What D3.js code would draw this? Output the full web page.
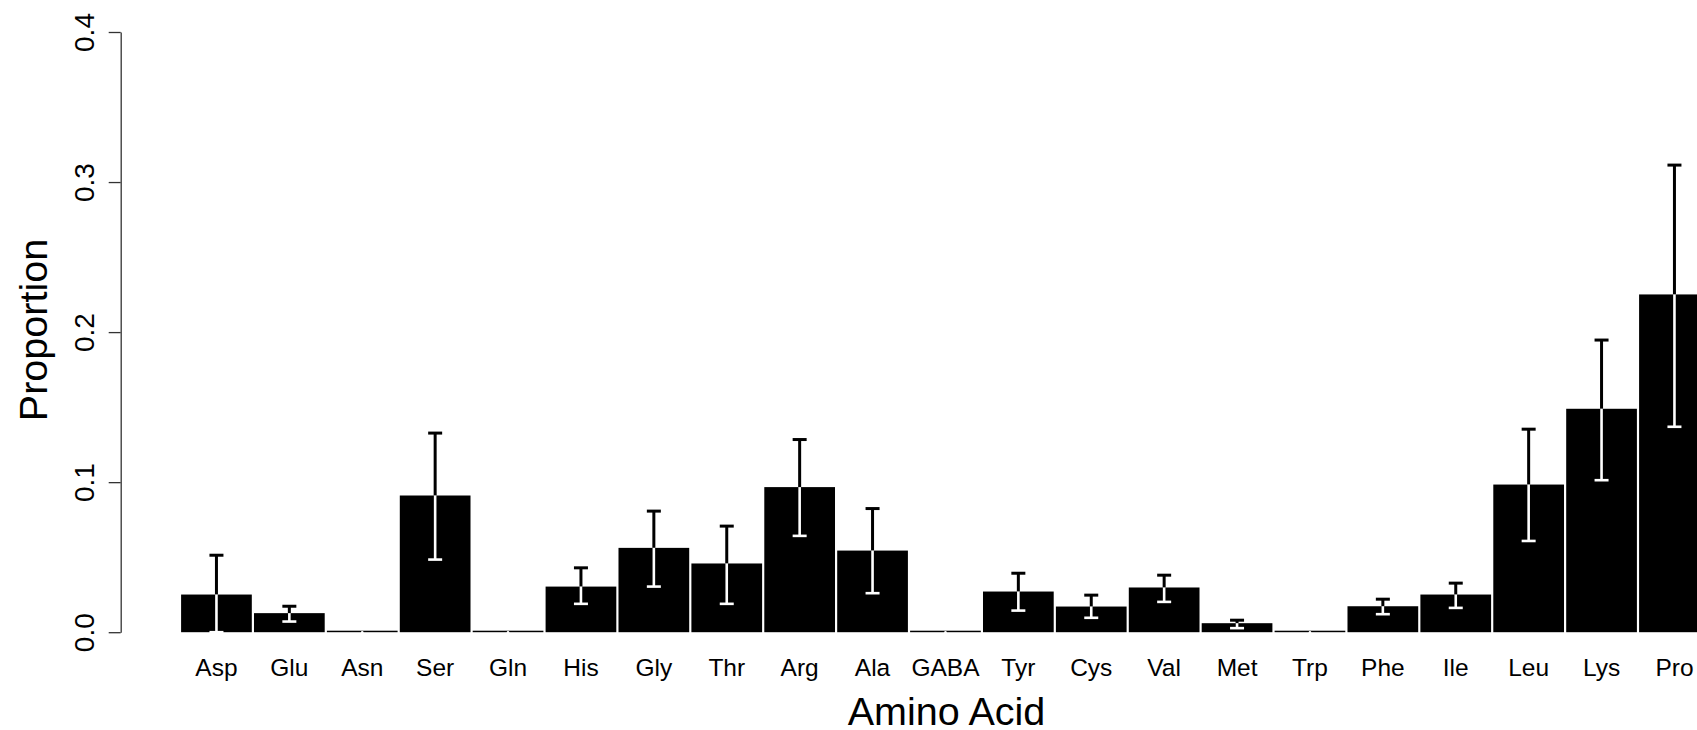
<!DOCTYPE html>
<html>
<head>
<meta charset="utf-8">
<script src="https://cdn.jsdelivr.net/npm/d3@7"></script>
<style>
  body { margin: 0; background: #fff; }
  svg { display: block; font-family: "Liberation Sans", Arial, Helvetica, sans-serif; }
</style>
</head>
<body>
<script>
// amino acids, mean proportion and error bar ends
const aminoAcids = ["Asp", "Glu", "Asn", "Ser", "Gln", "His", "Gly", "Thr", "Arg", "Ala", "GABA",
                    "Tyr", "Cys", "Val", "Met", "Trp", "Phe", "Ile", "Leu", "Lys", "Pro"];
const meanProp = [0.0251, 0.0127, 0, 0.0911, 0, 0.0304, 0.0562, 0.0458, 0.0967, 0.0544, 0,
                  0.0271, 0.0171, 0.0298, 0.0060, 0, 0.0173, 0.0251, 0.0984, 0.1489, 0.2251];
const upperProp = [0.0513, 0.0173, 0, 0.1327, 0, 0.0429, 0.0807, 0.0707, 0.1284, 0.0824, 0,
                   0.0393, 0.0247, 0.0380, 0.0080, 0, 0.0220, 0.0327, 0.1353, 0.1947, 0.3113];
const lowerProp = [0, 0.0071, 0, 0.0484, 0, 0.0189, 0.0304, 0.0189, 0.0642, 0.0260, 0,
                   0.0144, 0.0096, 0.0202, 0.0027, 0, 0.0120, 0.0162, 0.0608, 0.1013, 0.1369];
const yTicks = [0, 0.1, 0.2, 0.3, 0.4];

const width = 1697, height = 730;
const data = aminoAcids.map((name, i) => ({
    name: name, mean: meanProp[i], hi: upperProp[i], lo: lowerProp[i]
}));

const svg = d3.select("body").append("svg")
    .attr("width", width)
    .attr("height", height);

// the plot runs past the right edge, like the original
const step = 72.9;
const x = d3.scaleBand()
    .domain(aminoAcids)
    .range([180, 180 + step * aminoAcids.length])
    .paddingInner(0.03)
    .paddingOuter(0.015);

const y = d3.scaleLinear()
    .domain([0, 0.4])
    .range([632.2, 32]);

// bars
svg.append("g")
    .selectAll("rect")
    .data(data)
    .enter().append("rect")
    .attr("x", d => x(d.name))
    .attr("width", x.bandwidth())
    .attr("y", d => Math.min(y(d.mean), y(0) - 1.5))
    .attr("height", d => Math.max(y(0) - y(d.mean), 1.5))
    .attr("fill", "#000");

// error bars: black above the mean, white inside the bar
const capHalf = 7;
const err = svg.append("g").selectAll("g")
    .data(data)
    .enter().append("g")
    .attr("transform", d => `translate(${x(d.name) + x.bandwidth() / 2},0)`);

err.filter(d => d.hi > d.mean).append("line")
    .attr("y1", d => y(d.mean)).attr("y2", d => y(d.hi))
    .attr("stroke", "#000").attr("stroke-width", 3);
err.filter(d => d.hi > d.mean).append("line")
    .attr("x1", -capHalf).attr("x2", capHalf)
    .attr("y1", d => y(d.hi)).attr("y2", d => y(d.hi))
    .attr("stroke", "#000").attr("stroke-width", 3);

err.append("line")
    .attr("y1", d => y(d.mean)).attr("y2", d => y(d.lo))
    .attr("stroke", "#fff").attr("stroke-width", 2.6)
    .attr("stroke-linecap", d => d.mean === 0 ? "round" : "butt");
err.filter(d => d.lo < d.mean).append("line")
    .attr("x1", -capHalf).attr("x2", capHalf)
    .attr("y1", d => y(d.lo)).attr("y2", d => y(d.lo))
    .attr("stroke", "#fff").attr("stroke-width", 2.6);

// y axis
const yAxis = svg.append("g")
    .attr("transform", "translate(120.7,0)")
    .call(d3.axisLeft(y).tickValues(yTicks).tickFormat(d3.format(".1f")).tickSize(12).tickSizeOuter(0));
yAxis.select(".domain").attr("stroke", "#333").attr("stroke-width", 1.3);
yAxis.selectAll(".tick line").attr("stroke", "#333").attr("stroke-width", 1.3);
yAxis.selectAll(".tick text")
    .attr("transform", "rotate(-90)")
    .attr("x", 0)
    .attr("y", -26.5)
    .attr("dy", null)
    .attr("text-anchor", "middle")
    .attr("fill", "#000")
    .style("font-size", "28px")
    .style("font-family", "\"Liberation Sans\", Arial, sans-serif");

// category labels
svg.append("g")
    .selectAll("text")
    .data(data)
    .enter().append("text")
    .attr("x", d => x(d.name) + x.bandwidth() / 2)
    .attr("y", 675.5)
    .attr("text-anchor", "middle")
    .style("font-size", "24.5px")
    .text(d => d.name);

// axis titles
svg.append("text")
    .attr("transform", "translate(46.5,330) rotate(-90)")
    .attr("text-anchor", "middle")
    .style("font-size", "39.5px")
    .text("Proportion");

svg.append("text")
    .attr("x", 946.5)
    .attr("y", 725)
    .attr("text-anchor", "middle")
    .style("font-size", "39.5px")
    .text("Amino Acid");
</script>
</body>
</html>
